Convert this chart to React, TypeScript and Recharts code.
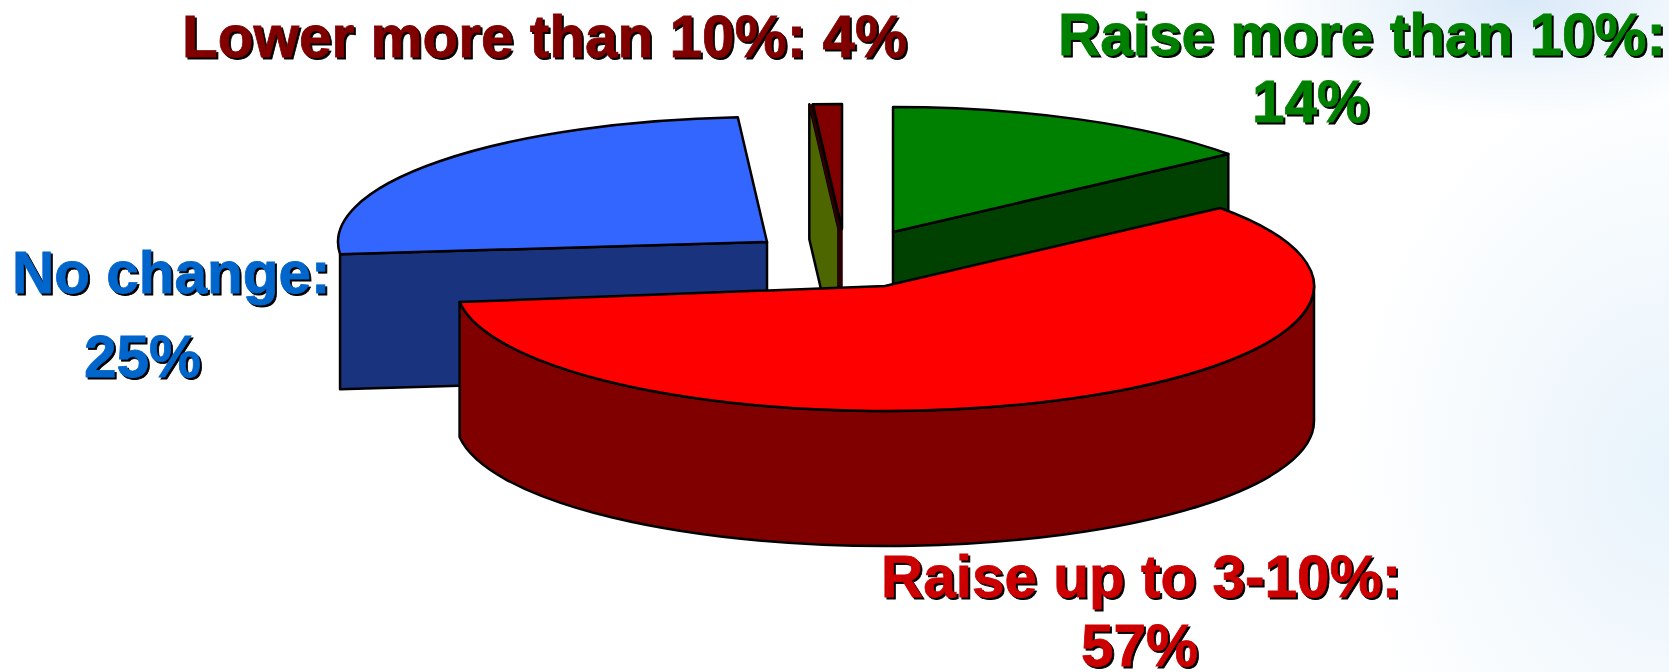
import { PieChart, Pie } from "recharts";

// order here is paint order: back slices first, the big red one last
const SLICE_NAMES = ["No change", "Lower more than 10%", "Raise more than 10%", "Raise up to 3-10%"];
// shares as drawn in the picture (they differ a bit from the printed percentages)
const DRAWN_SHARES = [25.6, 1.09, 14.35, 58.96];

const LABEL_LINES = ["Lower more than 10%: 4%", "Raise more than 10%:", "14%", "No change:", "25%", "Raise up to 3-10%:", "57%"];

const LABEL_STYLE = [
  { x: 182, y: 57, color: "#800000" },
  { x: 1058, y: 55, color: "#008000" },
  { x: 1252, y: 122, color: "#008000" },
  { x: 12, y: 293, color: "#0066cc" },
  { x: 84, y: 377, color: "#0066cc" },
  { x: 881, y: 597, color: "#cc0000" },
  { x: 1081, y: 666, color: "#cc0000" },
];

const SLICE_STYLE: Record<string, any> = {
  "No change": { dx: -118, dy: -44, top: "#3366ff", wall: "#19337f", cut: "start" },
  "Lower more than 10%": { dx: -43, dy: -57, top: "#800000", wall: "#4d6600", cut: "start", shift: -3.5 },
  "Raise more than 10%": { dx: 8, dy: -54, top: "#008000", wall: "#004000", cut: "end" },
  "Raise up to 3-10%": { dx: 0, dy: 0, top: "#ff0000", wall: "#800000" },
};

const TILT = 125 / 429;
const DEPTH = 135;
const RAD = Math.PI / 180;
const EDGE = 2.5;

function SliceShape(props: any) {
  const { cx, cy, outerRadius, startAngle, endAngle } = props;
  const name = props.name ?? props.payload?.name;
  const s = SLICE_STYLE[name];
  const ax = cx + s.dx;
  const ay = cy + s.dy;
  const rx = outerRadius;
  const ry = outerRadius * TILT;
  const pt = (a: number, down = 0): [number, number] => [ax + rx * Math.cos(a * RAD), ay - ry * Math.sin(a * RAD) + down];
  const [sx, sy] = pt(startAngle);
  const [ex, ey] = pt(endAngle);
  const large = startAngle - endAngle > 180 ? 1 : 0;
  const topPath = `M${ax},${ay} L${sx},${sy} A${rx},${ry} 0 ${large} 1 ${ex},${ey} Z`;

  let cutWall = null;
  let sliver = null;
  if (s.cut) {
    const [px, py] = s.cut === "start" ? [sx, sy] : [ex, ey];
    const off = s.shift || 0;
    cutWall = (
      <path
        d={`M${ax + off},${ay} L${px + off},${py} L${px + off},${py + DEPTH} L${ax + off},${ay + DEPTH} Z`}
        fill={s.wall}
        stroke="#000"
        strokeWidth={EDGE}
        strokeLinejoin="round"
      />
    );
    if (off) {
      const mid = off / 2;
      sliver = (
        <polyline
          points={`${px + mid},${py} ${ax + mid},${ay} ${ax + mid},${ay + DEPTH}`}
          fill="none"
          stroke="#2a0000"
          strokeWidth={5}
        />
      );
    }
  }

  // outer rim, only the front half of the ellipse shows
  let rim = null;
  if (startAngle > 0 && endAngle < 0) {
    const [r0x, r0y] = pt(0);
    const [r1x, r1y] = pt(endAngle);
    rim = (
      <path
        d={`M${r0x},${r0y} A${rx},${ry} 0 0 1 ${r1x},${r1y} L${r1x},${r1y + DEPTH} A${rx},${ry} 0 0 0 ${r0x},${r0y + DEPTH} Z`}
        fill={s.wall}
        stroke="#000"
        strokeWidth={EDGE}
        strokeLinejoin="round"
      />
    );
  }

  return (
    <g>
      {cutWall}
      {sliver}
      {rim}
      <path d={topPath} fill={s.top} stroke="#000" strokeWidth={EDGE} strokeLinejoin="round" />
    </g>
  );
}

const data = SLICE_NAMES.map((name, i) => ({ name, value: DRAWN_SHARES[i] }));

export default function App() {
  return (
    <div
      style={{
        position: "absolute",
        left: 0,
        top: 0,
        width: 1669,
        height: 672,
        overflow: "hidden",
        background:
          "radial-gradient(ellipse 260px 120px at 1520px 0px, #d9e9f8 0%, rgba(217,233,248,0) 100%), radial-gradient(ellipse 330px 420px at 1669px 470px, #e8f3fb 0%, rgba(232,243,251,0) 100%), #ffffff",
      }}
    >
      <PieChart width={1669} height={672} margin={{ top: 0, right: 0, bottom: 0, left: 0 }}>
        <Pie
          data={data}
          dataKey="value"
          nameKey="name"
          cx={885}
          cy={286}
          innerRadius={0}
          outerRadius={429}
          startAngle={185.6}
          endAngle={-172.6}
          paddingAngle={0}
          shape={SliceShape}
          isAnimationActive={false}
        />
        {LABEL_LINES.map((line, i) => (
          <text
            key={line}
            x={LABEL_STYLE[i].x}
            y={LABEL_STYLE[i].y}
            fill={LABEL_STYLE[i].color}
            stroke={LABEL_STYLE[i].color}
            strokeWidth={0.8}
            fontFamily="Liberation Sans, Arial, sans-serif"
            fontWeight={700}
            fontSize={58.5}
            style={{ filter: "drop-shadow(2px 2px 0 #000)" }}
          >
            {line}
          </text>
        ))}
      </PieChart>
    </div>
  );
}
